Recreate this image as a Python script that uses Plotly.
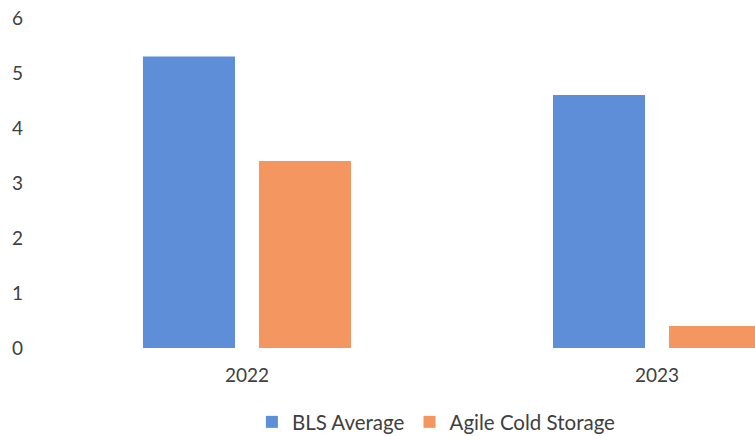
import plotly.graph_objects as go

years = ["2022", "2023"]
bls_average = [5.3, 4.6]
agile_cold_storage = [3.4, 0.4]
y_ticks = [0, 1, 2, 3, 4, 5, 6]

font_family = "Lato, 'Open Sans', sans-serif"
text_color = "#404040"

fig = go.Figure()
fig.add_trace(go.Bar(name="BLS Average", x=years, y=bls_average,
                     marker=dict(color="#5F8ED8", line=dict(width=0))))
fig.add_trace(go.Bar(name="Agile Cold Storage", x=years, y=agile_cold_storage,
                     marker=dict(color="#F39660", line=dict(width=0))))

fig.update_layout(
    width=755, height=436,
    margin=dict(l=42, r=0, t=18, b=88),
    paper_bgcolor="white", plot_bgcolor="white",
    barmode="group", bargap=0.434, bargroupgap=0.207,
    font=dict(family=font_family, size=19, color=text_color),
    showlegend=True,
    legend=dict(orientation="h", xref="container", yref="container",
                x=0.578, y=0.032, xanchor="center", yanchor="middle",
                font=dict(size=20.5, color=text_color), itemwidth=30,
                traceorder="normal"),
    xaxis=dict(type="category", range=[-0.5, 1.239], showgrid=False,
               showline=False, zeroline=False, ticks="",
               ticklabelstandoff=14, tickfont=dict(size=19)),
    yaxis=dict(range=[0, 6], tickvals=y_ticks, showgrid=False,
               showline=False, zeroline=False, ticks="",
               ticklabelstandoff=18, tickfont=dict(size=19)),
)

fig.write_html("out.html")
